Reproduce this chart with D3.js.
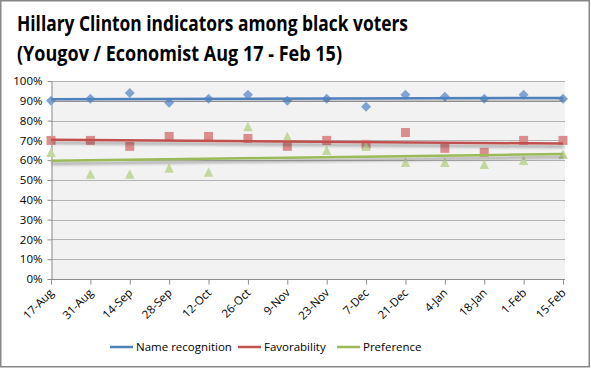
<!DOCTYPE html>
<html><head><meta charset="utf-8">
<script src="https://cdn.jsdelivr.net/npm/d3@7"></script>
<style>
body{margin:0;background:#fff;}
svg{display:block;}
text{font-family:"Open Sans","Noto Sans",sans-serif;}
</style></head>
<body>
<svg id="c" width="591" height="368"></svg>
<script>
const titleLines = ["Hillary Clinton indicators among black voters", "(Yougov / Economist Aug 17 - Feb 15)"];
const categories = ["17-Aug","31-Aug","14-Sep","28-Sep","12-Oct","26-Oct","9-Nov","23-Nov","7-Dec","21-Dec","4-Jan","18-Jan","1-Feb","15-Feb"];
const nameRecognition = [90,91,94,89,91,93,90,91,87,93,92,91,93,91];
const favorability    = [70,70,67,72,72,71,67,70,68,74,66,64,70,70];
const preference      = [64,53,53,56,54,77,72,65,67,59,59,58,60,63];
const yTicks = [0,10,20,30,40,50,60,70,80,90,100];
const seriesNames = ["Name recognition","Favorability","Preference"];

// marker symbol types (shape relative to the point centre; size = width in px)
const diamond = {draw(ctx, s){ const r = s/2; ctx.moveTo(0,-r); ctx.lineTo(r,0); ctx.lineTo(0,r); ctx.lineTo(-r,0); ctx.closePath(); }};
const square  = {draw(ctx, s){ const r = s/2; ctx.rect(-r,-r,s,s); }};
const triangle= {draw(ctx, s){ const r = s/2; ctx.moveTo(0,-r); ctx.lineTo(r,r); ctx.lineTo(-r,r); ctx.closePath(); }};

const series = [
  {name: seriesNames[0], values: nameRecognition, line: "#4F81BD", fill: "#7EA3D4", shape: diamond,  size: 10},
  {name: seriesNames[1], values: favorability,    line: "#C0504D", fill: "#DA8D8C", shape: square,   size: 9},
  {name: seriesNames[2], values: preference,      line: "#9BBB59", fill: "#C3D89E", shape: triangle, size: 9.5}
];

const svg = d3.select("#c");
const defs = svg.append("defs");
const f = defs.append("filter").attr("id","sh").attr("x","-5%").attr("y","-200%").attr("width","110%").attr("height","500%");
f.append("feGaussianBlur").attr("in","SourceAlpha").attr("stdDeviation",1.6).attr("result","b");
f.append("feOffset").attr("in","b").attr("dx",1).attr("dy",2.5).attr("result","o");
f.append("feComponentTransfer").attr("in","o").attr("result","o2").append("feFuncA").attr("type","linear").attr("slope",0.35);
const m = f.append("feMerge"); m.append("feMergeNode").attr("in","o2"); m.append("feMergeNode").attr("in","SourceGraphic");

// outer border
svg.append("rect").attr("x",0.75).attr("y",0.75).attr("width",588.5).attr("height",366).attr("fill","#fff").attr("stroke","#878787").attr("stroke-width",1.5);

// title
titleLines.forEach((t,i)=>{
  svg.append("text").attr("x",17).attr("y",31+i*30).attr("font-size",21).attr("font-weight","bold").attr("fill","#000")
    .attr("textLength", i===0?391:325).attr("lengthAdjust","spacingAndGlyphs").text(t);
});

const x0 = 51, x1 = 563, plotRight = 565, yTop = 81, yBot = 279;
const x = d3.scalePoint().domain(categories).range([x0, x1]);
const y = d3.scaleLinear().domain([0,100]).range([yBot, yTop]);

svg.append("rect").attr("x",x0).attr("y",yTop).attr("width",plotRight-x0).attr("height",yBot-yTop).attr("fill","#F2F2F2");

// gridlines
svg.append("g").selectAll("line").data(yTicks.filter(d=>d>0)).join("line")
  .attr("x1",x0).attr("x2",plotRight).attr("y1",d=>Math.round(y(d))+0.5).attr("y2",d=>Math.round(y(d))+0.5)
  .attr("stroke","#B3B3B3").attr("stroke-width",1);

// y axis
const ya = svg.append("g").attr("transform",`translate(${x0+0.5},0)`)
  .call(d3.axisLeft(y).tickValues(yTicks).tickFormat(d=>d+"%").tickSize(4).tickSizeOuter(0));
ya.select(".domain").attr("stroke","#8C8C8C");
ya.selectAll(".tick line").attr("stroke","#8C8C8C");
ya.selectAll("text").attr("font-size",11.5).attr("fill","#000").attr("x",-9).attr("font-family","'Open Sans',sans-serif");

// x axis
const xa = svg.append("g").attr("transform",`translate(0,${yBot+0.5})`)
  .call(d3.axisBottom(x).tickSize(5).tickSizeOuter(0));
xa.select(".domain").attr("d",`M${x0},0H${plotRight}`).attr("stroke","#8C8C8C");
xa.selectAll(".tick line").attr("stroke","#8C8C8C");
xa.selectAll("text").attr("font-size",11.5).attr("fill","#000").attr("font-family","'Open Sans',sans-serif")
  .attr("text-anchor","end").attr("dy",0).attr("y",0)
  .attr("transform","translate(3,14) rotate(-45)");

// markers
series.forEach(s=>{
  svg.append("g").selectAll("path").data(s.values).join("path")
    .attr("transform",(d,i)=>`translate(${x(categories[i])},${y(d)})`)
    .attr("d", d3.symbol().type(s.shape).size(s.size))
    .attr("fill", s.fill);
});

// trendlines (least squares)
series.forEach(s=>{
  const n = s.values.length;
  const xs = d3.range(n);
  const mx = d3.mean(xs), my = d3.mean(s.values);
  const slope = d3.sum(xs, i=>(i-mx)*(s.values[i]-my)) / d3.sum(xs, i=>(i-mx)*(i-mx));
  const icpt = my - slope*mx;
  svg.append("line")
    .attr("x1", x(categories[0])).attr("x2", x(categories[n-1]))
    .attr("y1", y(icpt)).attr("y2", y(icpt+slope*(n-1)))
    .attr("stroke", s.line).attr("stroke-width",2.5).attr("filter","url(#sh)");
});

// legend
const legX = [110, 238, 337];
series.forEach((s,i)=>{
  const g = svg.append("g").attr("transform",`translate(${legX[i]},347)`);
  g.append("line").attr("x1",0).attr("x2",23).attr("y1",0).attr("y2",0).attr("stroke",s.line).attr("stroke-width",2.5);
  g.append("text").attr("x",26).attr("y",4).attr("font-size",11.5).attr("fill","#000").text(s.name);
});
</script>
</body></html>
